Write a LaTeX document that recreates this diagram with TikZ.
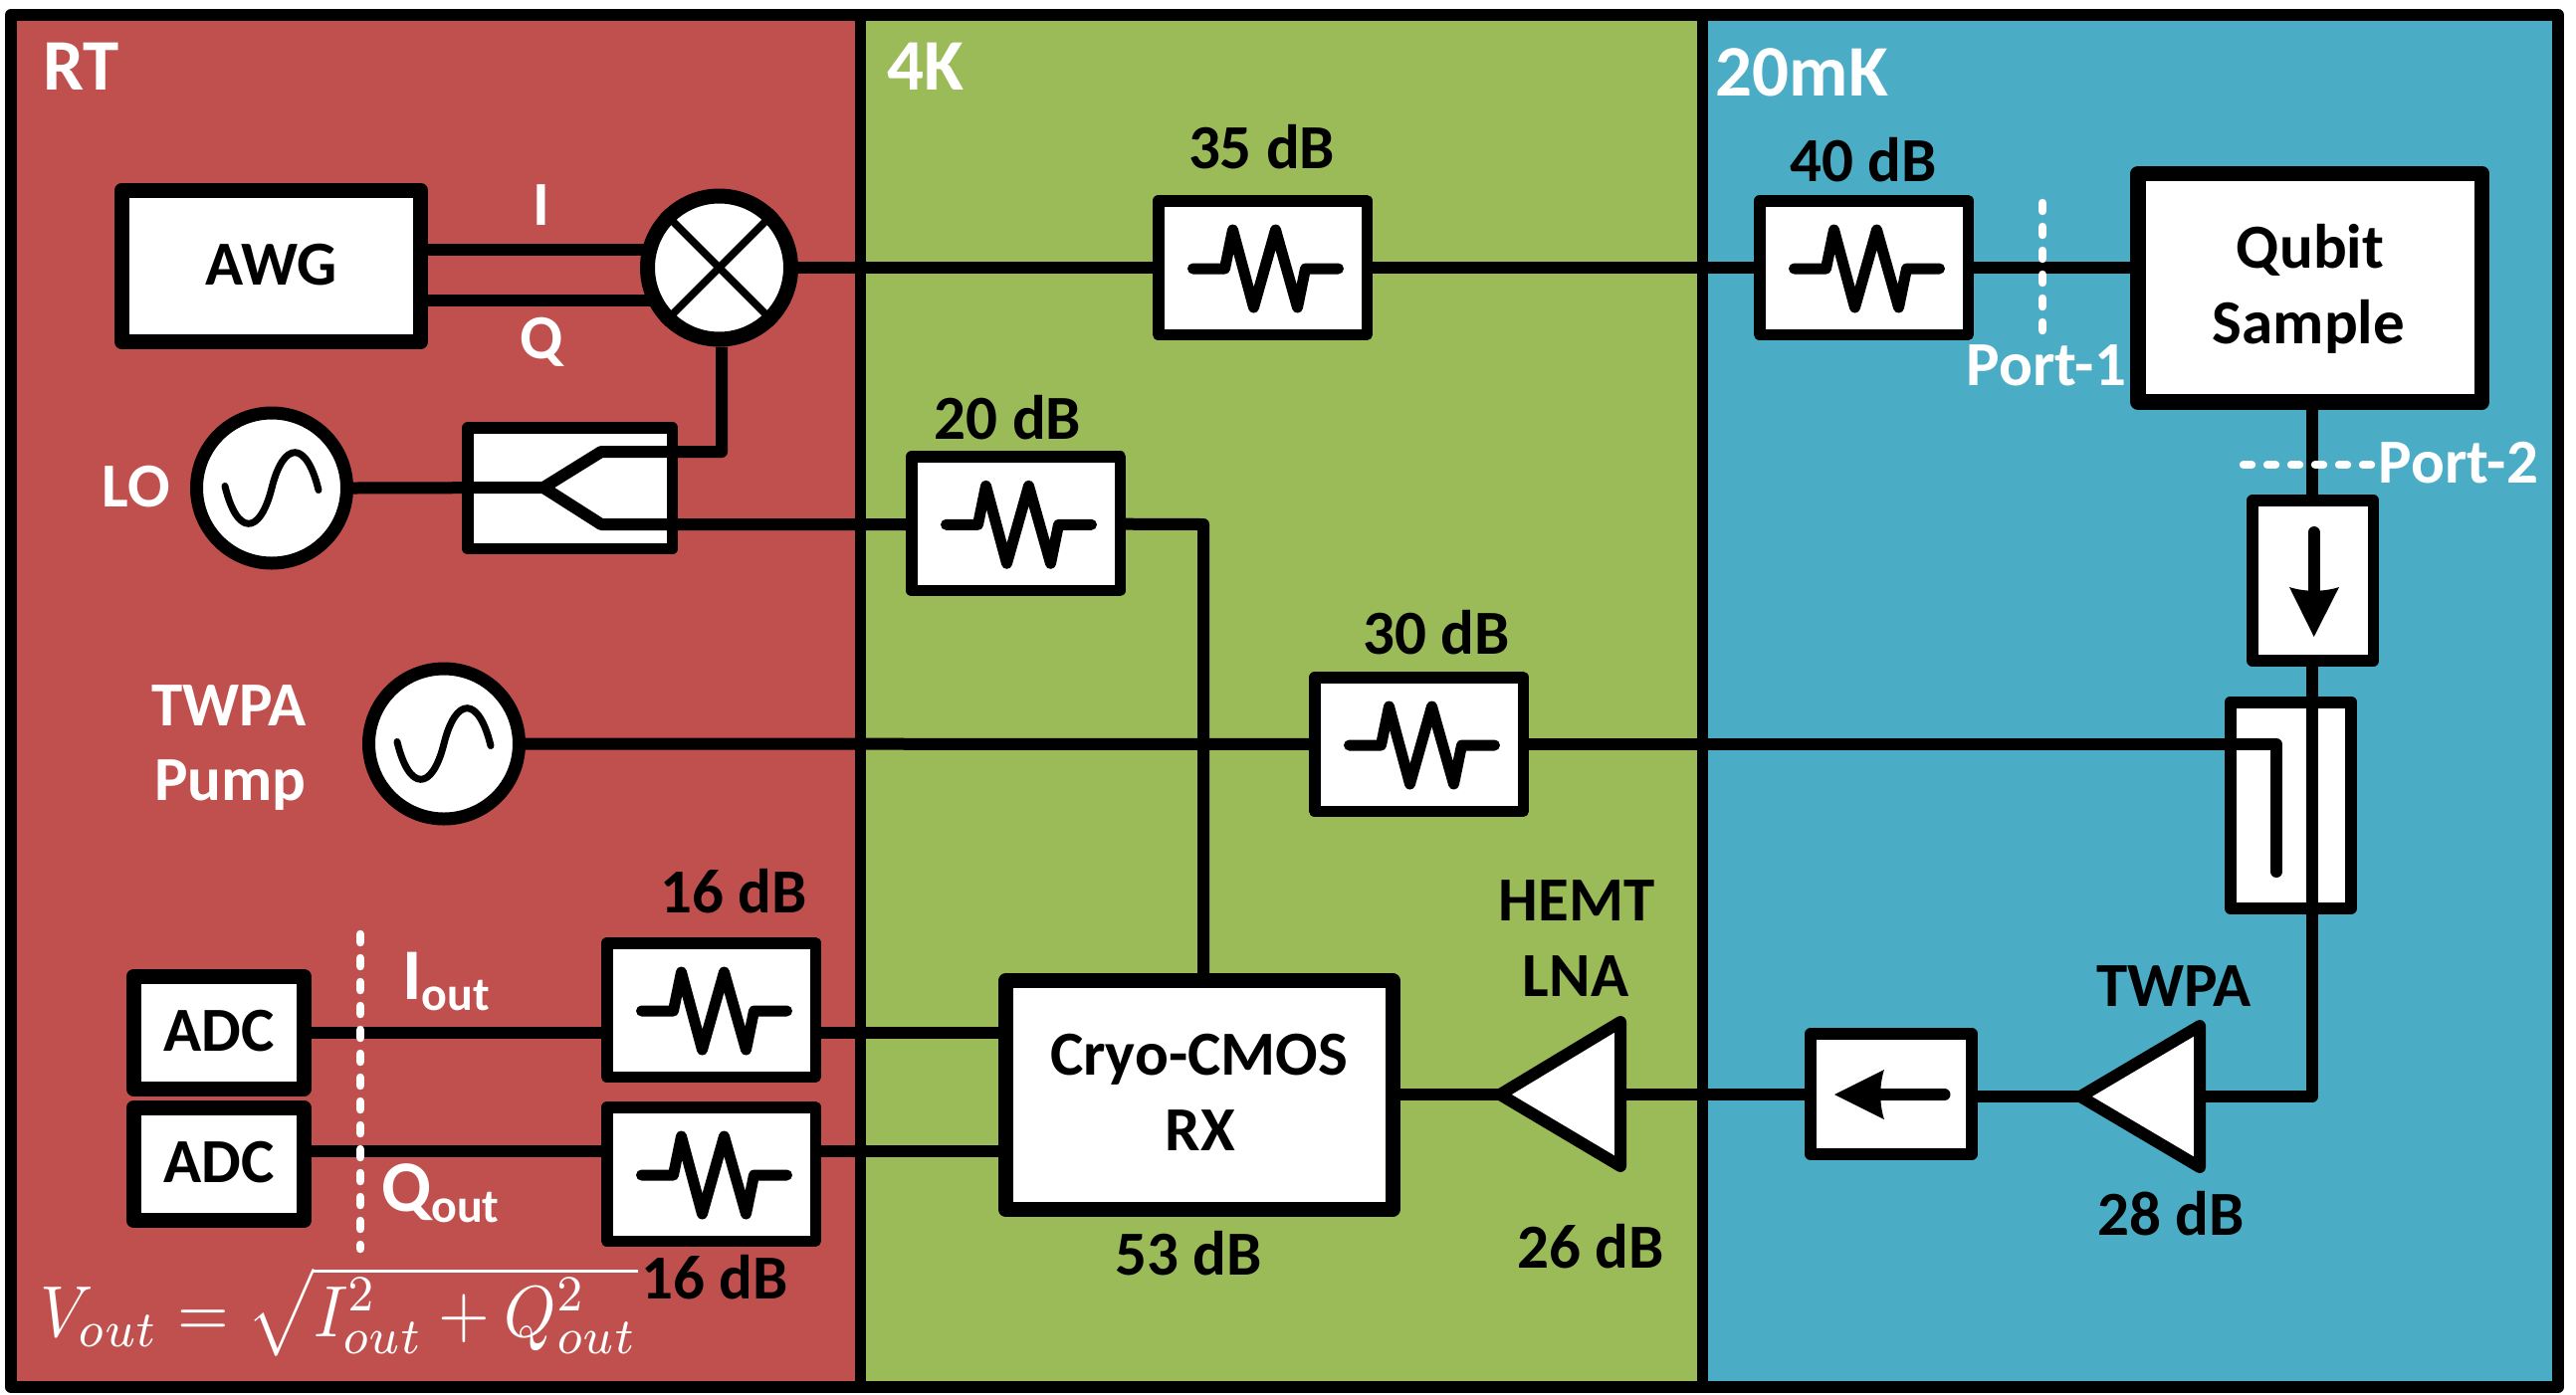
\documentclass[tikz,border=0pt]{standalone}
\usepackage{fontspec}
\usepackage{graphicx}
\setmainfont{Carlito}
\usetikzlibrary{calc}
\pgfdeclarelayer{bg}
\pgfsetlayers{bg,main}
\definecolor{rtred}{HTML}{C0504D}
\definecolor{kgreen}{HTML}{9BBB59}
\definecolor{mkblue}{HTML}{4BACC6}
\tikzset{
  boxbase/.style={draw=black,fill=white,rectangle,inner sep=0pt,line join=round},
  attn/.style={boxbase,line width=11.5pt,minimum width=209.5pt,minimum height=134.5pt},
  iso/.style={boxbase,line width=11.5pt},
  mainbox/.style={boxbase,line width=15pt},
  src/.style={draw=black,fill=white,circle,inner sep=0pt,line width=13pt,minimum size=151pt},
  wire/.style={draw=black,line width=12pt,line join=round},
  zig/.style={draw=black,line width=11pt,line cap=round,line join=round},
  sinewave/.style={draw=black,line width=7pt,line cap=round},
  dashwhite/.style={draw=white,line width=8.5pt,line cap=round,dash pattern=on 8pt off 16pt},
  lab/.style={font=\fontsize{63}{70}\selectfont\bfseries,anchor=base,inner sep=0pt,text=black},
  wlab/.style={lab,text=white},
  title/.style={font=\fontsize{73}{80}\selectfont\bfseries,anchor=base west,inner sep=0pt,text=white},
  amp/.style={draw=black,fill=white,line width=12pt,line join=round}
}
\newcommand{\attbox}[3]{%
  \node[attn] (#1) at (#2,#3) {};
  \draw[zig,shift={(#1.center)}] (-70,1) -- (-38,1) -- (-30,-38) -- (-9,40) -- (13,-38) -- (35,40) -- (43,1) -- (76,1);
}
\newcommand{\sinein}[1]{%
  \draw[sinewave,shift={(#1.center)}] (-47,-2) .. controls (-35,48) and (-12,48) .. (0,0) .. controls (12,-48) and (35,-48) .. (47,2);
}
\begin{document}
\begin{tikzpicture}[x=1pt,y=-1pt]
\useasboundingbox (0,0) rectangle (2588,1401);
\begin{pgfonlayer}{bg}
  \fill[white] (0,0) rectangle (2588,1401);
  \fill[rtred] (11,15) rectangle (865,1394);
  \fill[kgreen] (865,15) rectangle (1710.5,1394);
  \fill[mkblue] (1710.5,15) rectangle (2570,1394);
  \draw[line width=12pt,line join=round] (11,15) rectangle (2570,1394);
  \draw[line width=11.5pt] (864.5,15) -- (864.5,1394);
  \draw[line width=11.5pt] (1710.5,15) -- (1710.5,1394);
\end{pgfonlayer}

% blocks
\node[mainbox,minimum width=300pt,minimum height=152.5pt] (awg) at (272.5,267.25) {};
\node[lab] (awgt) at (272.5,286.7) {AWG};
\node[draw=black,fill=white,circle,inner sep=0pt,line width=15pt,minimum size=144pt] (mix) at (722.5,269) {};
\draw[line width=7.5pt] (mix.45) -- (mix.225);
\draw[line width=7.5pt] (mix.135) -- (mix.315);
\node[src] (lo) at (273,490.5) {};
\sinein{lo}
\node[iso,minimum width=205.5pt,minimum height=121.5pt] (split) at (572.75,490.75) {};
\node[src] (pump) at (446,747.5) {};
\sinein{pump}
\attbox{a35}{1268.5}{269}
\attbox{a40}{1872.5}{269}
\attbox{a20}{1020.5}{526.3}
\attbox{a30}{1425.5}{748}
\attbox{a16a}{714.5}{1015}
\attbox{a16b}{714.5}{1180}
\node[mainbox,minimum width=171.5pt,minimum height=112.5pt] (adca) at (219.75,1037.75) {};
\node[lab] (adcat) at (220,1056.7) {ADC};
\node[mainbox,minimum width=171.5pt,minimum height=113pt] (adcb) at (219.75,1170) {};
\node[lab] (adcbt) at (220,1188) {ADC};
\node[mainbox,minimum width=388.5pt,minimum height=230pt] (rx) at (1204.75,1100.5) {};
\node[lab] (rxa) at (1204.6,1080.6) {Cryo-CMOS};
\node[lab] (rxb) at (1205.6,1156) {RX};
\node[boxbase,line width=15.5pt,minimum width=345.5pt,minimum height=229.5pt] (qubit) at (2320.75,289.25) {};
\node[lab] (qa) at (2321,269) {Qubit};
\node[lab] (qb) at (2319.5,345) {Sample};
\node[iso,minimum width=121.5pt,minimum height=161pt] (isod) at (2323.75,583.5) {};
\node[iso,minimum width=162pt,minimum height=121pt] (isol) at (1900,1099.5) {};
\node[boxbase,line width=12pt,minimum width=121.3pt,minimum height=207pt] (coup) at (2301.3,809) {};

% amplifiers
\coordinate (lnatip) at (1507,1100);
\coordinate (lnatop) at (1628,1027);
\coordinate (lnabot) at (1628,1172);
\coordinate (lnain) at (1628,1100);
\coordinate (twtip) at (2090,1102);
\coordinate (twtop) at (2210,1031);
\coordinate (twbot) at (2210,1173);
\coordinate (twin) at (2210,1102);
\coordinate (pumpturn) at (2287,748);
\coordinate (pumpend) at (2287,876);
\coordinate (ampturn) at (2323,1102);
\coordinate (rxtap) at (1209,527);

% connectors behind blocks
\begin{pgfonlayer}{bg}
  \draw[wire] (awg.center |- 0,251) -- (mix.center |- 0,251);
  \draw[wire] (awg.center |- 0,302) -- (mix.center |- 0,302);
  \draw[wire] (mix.center) -- (a35.center) -- (a40.center);
  \draw[wire] (a40.center) -- (qubit.center |- a40.center);
  \draw[wire] (pump.center) -- (a30.center);
  \draw[wire] (a20.center) -- (rxtap) -- (rxtap |- rx.north);
  \draw[wire] (adca.center) -- (a16a.center |- adca.center);
  \draw[wire] (a16a.center |- adca.center) -- (rx.center |- adca.center);
  \draw[wire] (adcb.center |- 0,1157) -- (rx.center |- 0,1157);
  \draw[wire] (rx.center |- lnatip) -- (lnatip);
  \draw[wire] (lnain) -- (isol.center |- lnain);
  \draw[wire] (isol.center |- twtip) -- (twtip);
  \draw[wire] (ampturn |- qubit.south) -- (ampturn |- isod.center);
\end{pgfonlayer}

% amplifier triangles
\draw[amp] (lnatip) -- (lnatop) -- (lnabot) -- cycle;
\draw[amp] (twtip) -- (twtop) -- (twbot) -- cycle;

% connectors over blocks
\coordinate (ytip) at (546,490);
\coordinate (yup) at (604,454);
\coordinate (ylow) at (604,527);
\coordinate (ycorner) at (725,454);
\draw[wire] (lo.east) -- (ytip) -- (yup) -- (ycorner) -- (ycorner |- mix.south);
\draw[wire] (ytip) -- (ylow) -- (a20.west |- ylow);
\draw[wire,line cap=round] (a30.east) -- (pumpturn) -- (pumpend);
\draw[wire] (ampturn |- isod.south) -- (ampturn) -- (twin);

% isolator arrows
\draw[line width=12pt,line cap=round] (2324.7,535) -- (2324.7,600);
\fill (2324.7,640) -- (2300,590) .. controls (2315,595) and (2335,595) .. (2350,590) -- cycle;
\draw[line width=12pt,line cap=round] (1953.5,1100) -- (1880,1100);
\fill (1843,1100) -- (1893,1075) .. controls (1888,1090) and (1888,1110) .. (1893,1125) -- cycle;

% reference planes
\coordinate (p1a) at (2052,204);
\coordinate (p1b) at (2052,334);
\draw[dashwhite] (p1a) -- (p1b);
\coordinate (p2a) at (2254,467);
\coordinate (p2b) at (2384,467);
\draw[dashwhite] (p2a) -- (p2b);
\coordinate (p3a) at (362,939);
\coordinate (p3b) at (362,1255);
\draw[dashwhite] (p3a) -- (p3b);

% labels
\node[title] (trt) at (43,90) {RT};
\node[title] (t4k) at (891.5,90) {4K};
\node[title] (t20) at (1723.6,96) {20mK};
\node[lab] (l35) at (1267.6,169) {35 dB};
\node[lab] (l40) at (1872,182) {40 dB};
\node[lab] (l20) at (1012.5,441) {20 dB};
\node[lab] (l30) at (1443,657) {30 dB};
\node[lab] (lhemt) at (1584,925) {HEMT};
\node[lab] (llna) at (1583,1001) {LNA};
\node[lab] (l26) at (1598,1274) {26 dB};
\node[lab] (l53) at (1194,1281) {53 dB};
\node[lab] (ltw) at (2184,1011) {TWPA};
\node[lab] (l28) at (2181,1241.5) {28 dB};
\node[lab] (l16a) at (737,917) {16 dB};
\node[lab] (l16b) at (718,1305) {16 dB};
\node[wlab] (lp1) at (2055.8,387.7) {Port-1};
\node[wlab] (lp2) at (2470,485) {Port-2};
\node[wlab] (li) at (544,226) {I};
\node[wlab] (lq) at (544,360) {Q};
\node[wlab] (llo) at (137,509) {LO};
\node[wlab] (lpa) at (230,729) {TWPA};
\node[wlab] (lpb) at (231.6,804) {Pump};
\node[title] (liout) at (404,1004) {I\raisebox{-11pt}{\fontsize{48}{50}\selectfont out}};
\node[title] (lqout) at (383,1217) {Q\raisebox{-11pt}{\fontsize{48}{50}\selectfont out}};
\node[anchor=base west,inner sep=0pt,text=white] (lform) at (40,1343) {\scalebox{6.65}[7.3]{$V_{out}=\sqrt{I_{out}^2+Q_{out}^2}$}};
\end{tikzpicture}
\end{document}
